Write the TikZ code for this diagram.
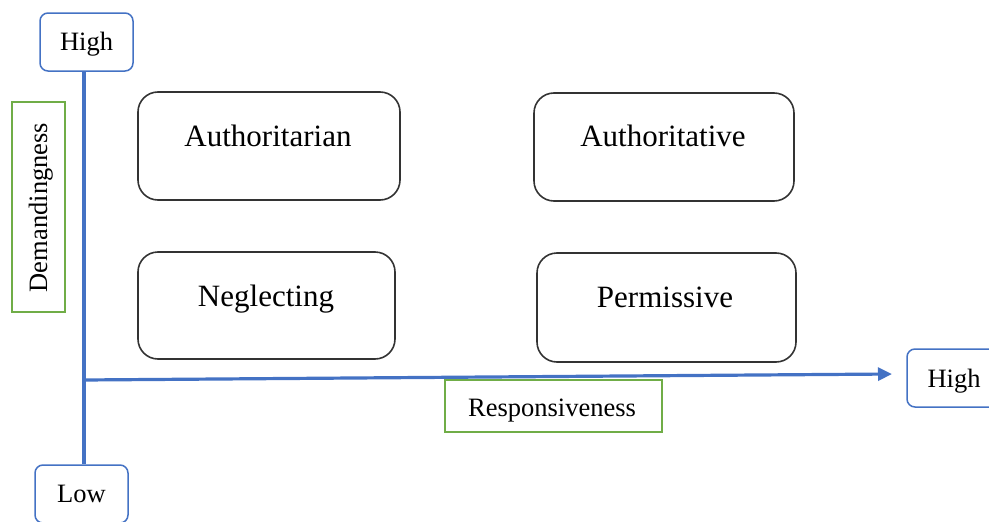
\documentclass[tikz,border=0pt]{standalone}
\usepackage{fontspec}
\setmainfont{Liberation Serif}
\usetikzlibrary{arrows.meta}
\definecolor{axisblue}{HTML}{4472C4}
\definecolor{boxgreen}{HTML}{70AD47}
\definecolor{boxgrey}{HTML}{333333}
\tikzset{
  stylebox/.style={draw=boxgrey, line width=1.6pt, rounded corners=20pt, inner sep=0pt},
  bluebox/.style={draw=axisblue, line width=1.5pt, rounded corners=8pt, inner sep=0pt, fill=white},
  greenbox/.style={draw=boxgreen, line width=1.5pt, inner sep=0pt, fill=white},
  bigtxt/.style={font=\fontsize{31}{36}\selectfont, anchor=base, inner sep=0pt},
  smalltxt/.style={font=\fontsize{26.5}{31}\selectfont, anchor=base, inner sep=0pt},
  axisline/.style={draw=axisblue, line width=3.2pt},
}
\begin{document}
\begin{tikzpicture}[x=1pt,y=-1pt]
\useasboundingbox (0,0) rectangle (989,522);
\clip (0,0) rectangle (989,522);
% axis origin and arrow tip
\coordinate (origin) at (84,380);
\coordinate (xtip) at (892,374);
% axis end boxes
\node[bluebox, minimum width=93pt, minimum height=58pt] (highv) at (86.5,42) {};
\node[smalltxt] (highvt) at (86.5,50) {High};
\node[bluebox, minimum width=93pt, minimum height=58pt] (low) at (81.5,494) {};
\node[smalltxt] (lowt) at (81.5,502) {Low};
\node[bluebox, minimum width=93pt, minimum height=58pt] (highh) at (953.5,378) {};
\node[smalltxt] (highht) at (954,387) {High};
% axes
\draw[axisline] (origin |- highv.south) -- (origin |- low.north);
\draw[axisline, -{Triangle[length=14pt,width=13pt]}] (origin) -- (xtip);
% axis titles
\node[greenbox, minimum width=53pt, minimum height=210pt] (dem) at (38.5,207) {};
\node[smalltxt, rotate=90] (demt) at (47,207.5) {Demandingness};
\node[greenbox, minimum width=217pt, minimum height=52pt] (resp) at (553.5,406) {};
\node[smalltxt] (respt) at (552,416) {Responsiveness};
% style boxes
\node[stylebox, minimum width=262pt, minimum height=108pt] (auth1) at (269,146) {};
\node[bigtxt] (auth1t) at (268,146) {Authoritarian};
\node[stylebox, minimum width=260pt, minimum height=108pt] (auth2) at (664,147) {};
\node[bigtxt] (auth2t) at (663,146) {Authoritative};
\node[stylebox, minimum width=257pt, minimum height=107pt] (negl) at (266.5,305.5) {};
\node[bigtxt] (neglt) at (266,306) {Neglecting};
\node[stylebox, minimum width=259pt, minimum height=109pt] (perm) at (666.5,307.5) {};
\node[bigtxt] (permt) at (665,307) {Permissive};
\end{tikzpicture}
\end{document}
